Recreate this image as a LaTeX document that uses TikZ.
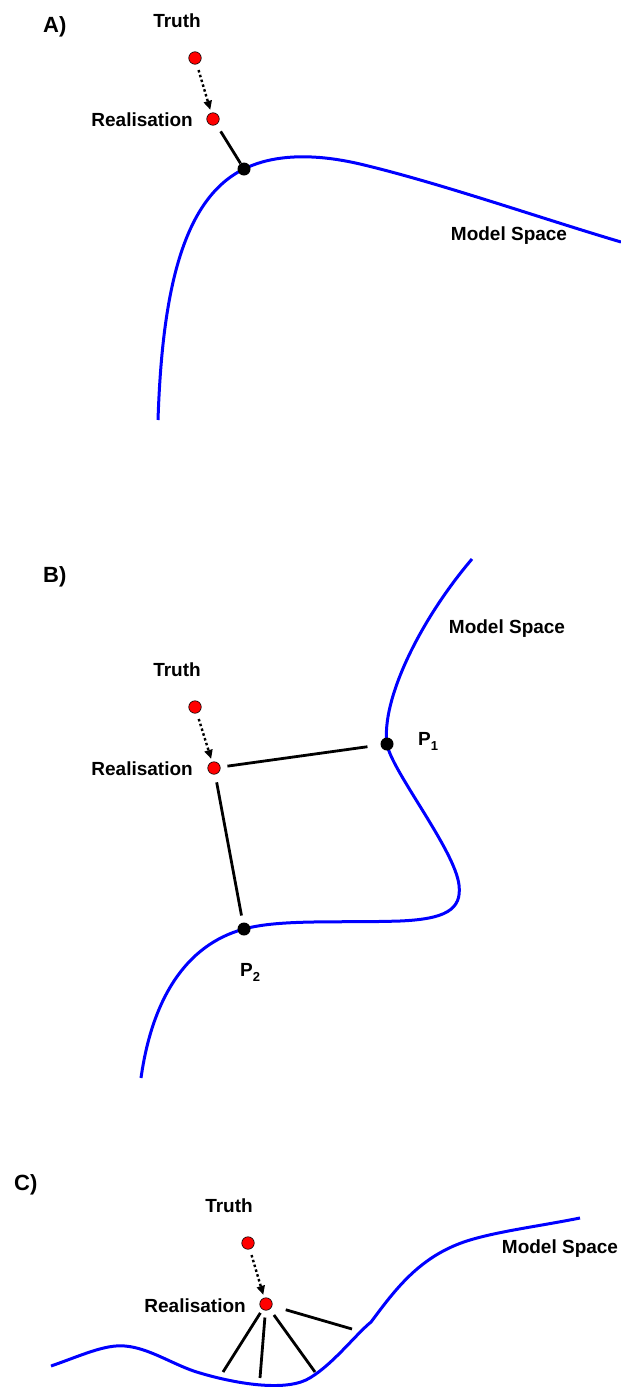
\documentclass[tikz,border=0pt]{standalone}
\usepackage{fontspec}
\setmainfont{Liberation Sans}
\usetikzlibrary{arrows.meta}
\begin{document}
\begin{tikzpicture}[x=1pt,y=-1pt,
  lbl/.style={inner sep=0pt,font=\fontsize{19}{22}\selectfont\bfseries},
  panel/.style={inner sep=0pt,font=\fontsize{22}{26}\selectfont\bfseries,anchor=base west},
  reddot/.style={circle,fill=red,draw=black,line width=0.6pt,minimum size=12.5pt,inner sep=0pt},
  blackdot/.style={circle,fill=black,minimum size=13pt,inner sep=0pt},
  manifold/.style={draw=blue,line width=3pt},
  proj/.style={draw=black,line width=2.8pt},
  dotarrow/.style={draw=black,line width=2.4pt,dash pattern=on 2.5pt off 2.5pt,-{Stealth[length=9pt,width=8pt,inset=0pt]}}
]
\useasboundingbox (0,0) rectangle (621,1387);
\fill[white] (0,0) rectangle (621,1387);

% ---------------- Panel A ----------------
\node[panel] (labA) at (43,32) {A)};
\draw[manifold] (158,420) .. controls (162,300) and (180,200) .. (244,169)
  .. controls (264,159) and (300,150) .. (360,164)
  .. controls (440,183) and (540,218) .. (621,242);
\node[lbl,anchor=base] (msA) at (509,240) {Model Space};
\node[lbl,anchor=base] (truthA) at (177,27) {Truth};
\node[reddot] (TA) at (195,58) {};
\node[reddot] (RA) at (213,119) {};
\node[lbl,anchor=base east] (realA) at (193,126) {Realisation};
\node[blackdot] (PA) at (244,169) {};
\draw[dotarrow,shorten <=6pt,shorten >=3pt] (TA) -- (RA);
\draw[proj,shorten <=8pt] (RA) -- (PA);

% ---------------- Panel B ----------------
\node[panel] (labB) at (43,582) {B)};
\draw[manifold] (472,559) .. controls (420,620) and (381,700) .. (387,744)
  .. controls (391,770) and (455,850) .. (459,885)
  .. controls (462,910) and (445,919) .. (400,921)
  .. controls (340,923) and (280,919) .. (244,929)
  .. controls (185,945) and (152,1000) .. (141,1078);
\node[lbl,anchor=base] (msB) at (507,633) {Model Space};
\node[lbl,anchor=base] (truthB) at (177,676) {Truth};
\node[reddot] (TB) at (195,707) {};
\node[reddot] (RB) at (214,768) {};
\node[lbl,anchor=base east] (realB) at (193,775) {Realisation};
\node[blackdot] (P1) at (387,744) {};
\node[blackdot] (P2) at (244,929) {};
\node[lbl,anchor=base west] (P1l) at (418,745) {P\raisebox{-0.3em}{\fontsize{13}{13}\selectfont 1}};
\node[lbl,anchor=base west] (P2l) at (240,976) {P\raisebox{-0.3em}{\fontsize{13}{13}\selectfont 2}};
\draw[dotarrow,shorten <=6pt,shorten >=3pt] (TB) -- (RB);
\draw[proj,shorten <=7pt,shorten >=13pt] (RB) -- (P1);
\draw[proj,shorten <=8pt,shorten >=7pt] (RB) -- (P2);

% ---------------- Panel C ----------------
\node[panel] (labC) at (14,1190) {C)};
\draw[manifold] (51,1366) .. controls (80,1356) and (105,1344) .. (125,1346)
  .. controls (150,1348) and (175,1366) .. (200,1373)
  .. controls (230,1382) and (280,1392) .. (306,1380)
  .. controls (330,1368) and (355,1335) .. (371,1322)
  .. controls (395,1290) and (420,1255) .. (470,1240)
  .. controls (500,1231) and (540,1226) .. (580,1218);
\node[lbl,anchor=base] (msC) at (560,1253) {Model Space};
\node[lbl,anchor=base] (truthC) at (229,1212) {Truth};
\node[reddot] (TC) at (248,1243) {};
\node[reddot] (RC) at (266,1304) {};
\node[lbl,anchor=base east] (realC) at (246,1312) {Realisation};
\draw[dotarrow,shorten <=6pt,shorten >=3pt] (TC) -- (RC);
\coordinate (c1) at (223,1372);
\coordinate (c2) at (260,1378);
\coordinate (c3) at (315,1372);
\coordinate (c4) at (352,1329);
\draw[proj,shorten <=4pt] (RC) -- (c1);
\draw[proj,shorten <=7pt] (RC) -- (c2);
\draw[proj,shorten <=7pt] (RC) -- (c3);
\draw[proj,shorten <=14pt] (RC) -- (c4);
\end{tikzpicture}
\end{document}
